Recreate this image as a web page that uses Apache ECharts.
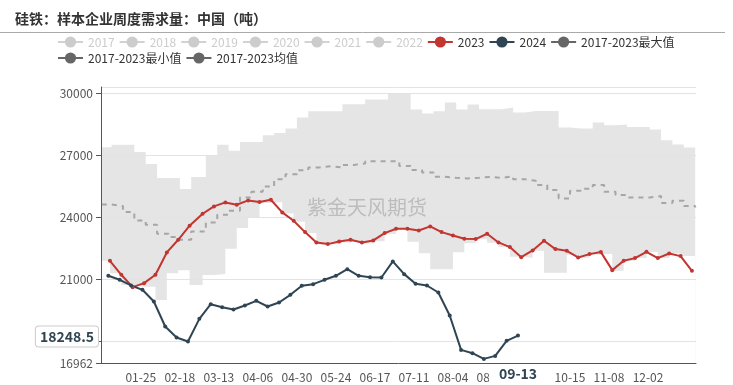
<!DOCTYPE html>
<html><head><meta charset="utf-8">
<script src="https://cdn.jsdelivr.net/npm/echarts@6/dist/echarts.min.js"></script>
<style>html,body{margin:0;padding:0;background:#fff}#c{width:733px;height:385px}</style>
</head><body><div id="c"></div>
<script>
const titleText = '硅铁：样本企业周度需求量：中国（吨）';
const watermarkText = '紫金天风期货';
const hiddenYears = ['2017', '2018', '2019', '2020', '2021', '2022'];
const name2023 = '2023', name2024 = '2024';
const nameMax = '2017-2023最大值', nameMin = '2017-2023最小值', nameAvg = '2017-2023均值';
const yMin = 16962, yMax = 30320;
const pointerDate = '09-13', pointerValue = 18248.5;

// weekly values
const values2024 = [21182, 20988, 20714, 20504, 19939, 18727, 18194, 18000, 19099, 19809, 19664, 19551, 19745,
  19971, 19696, 19890, 20262, 20698, 20778, 20988, 21182, 21505, 21182, 21117, 21101, 21877,
  21263, 20794, 20714, 20375, 19260, 17597, 17435, 17161, 17306, 18033, 18291];
const values2023 = [21909, 21231, 20633, 20827, 21231, 22313, 22926, 23605, 24186, 24541, 24735, 24622, 24832,
  24751, 24864, 24251, 23847, 23298, 22797, 22716, 22846, 22926, 22797, 22894, 23249, 23459,
  23459, 23378, 23572, 23298, 23136, 22975, 22959, 23217, 22797, 22571, 22086, 22409, 22878,
  22474, 22393, 22070, 22232, 22329, 21457, 21909, 22038, 22345, 22038, 22264, 22135, 21424];
const maxValues = [27400, 27529, 27529, 27174, 26592, 25914, 25914, 25381, 25962, 27012, 27529, 27238, 27662,
  27662, 27986, 28097, 28310, 28841, 29145, 29145, 29145, 29483, 29483, 29710, 29710, 30000, 30000,
  29227, 29034, 29145, 29565, 29227, 29469, 29242, 29242, 29324, 29082, 29160, 29160, 29160,
  28358, 28310, 28310, 28599, 28469, 28503, 28387, 28387, 28261, 27744, 27537, 27392, 27392];
const avgValues = [24638, 24557, 24267, 23863, 23653, 23217, 23055, 22926, 23330, 23766, 24138, 24331, 24977,
  25247, 25500, 25850, 26102, 26295, 26426, 26489, 26426, 26550, 26619, 26730, 26730, 26730, 26500,
  26300, 26184, 25972, 25924, 25894, 25924, 25972, 25924, 26005, 25861, 25779, 25571, 25329,
  24928, 25300, 25400, 25571, 25247, 25088, 24977, 24977, 25040, 24700, 24813, 24557, 24494];
const minValues = [21909, 21306, 20741, 20650, 20650, 20016, 21306, 21450, 20741, 21224, 21272, 22490, 23492,
  23976, 24700, 24750, 24200, 23800, 23250, 22750, 22700, 22800, 22850, 22750, 22850, 23200, 23450,
  22832, 22272, 21499, 21499, 22320, 22755, 22950, 22784, 22562, 22108, 22050, 22398, 21335, 21335,
  22190, 22050, 22200, 22250, 21425, 21909, 22038, 22340, 22038, 22264, 22135, 22135, 22135];

function mmdd(t) {
  return String(t.getUTCMonth() + 1).padStart(2, '0') + '-' + String(t.getUTCDate()).padStart(2, '0');
}
// x categories: every day of the year (MM-DD)
const days = [];
for (let t = new Date(Date.UTC(2024, 0, 1)); t.getUTCFullYear() === 2024; t.setUTCDate(t.getUTCDate() + 1)) days.push(mmdd(t));
function weekly(y, m, d, n, shiftFromMarch) {
  const out = [];
  for (let i = 0; i < n; i++) {
    const t = new Date(Date.UTC(y, m - 1, d + 7 * i));
    if (shiftFromMarch && t.getUTCMonth() >= 2) t.setUTCDate(t.getUTCDate() + shiftFromMarch);
    out.push(mmdd(t));
  }
  return out;
}
const dates2024 = weekly(2024, 1, 5, values2024.length, 0);
const dates2023 = weekly(2023, 1, 6, values2023.length, 0);
const maxDates = ['01-01'].concat(weekly(2023, 1, 7, 52, 1));
const minDates = ['01-01'].concat(dates2023, ['12-31']);
const zip = (ds, vs) => vs.map((v, i) => [ds[i], v]);

const statLegend = { itemStyle: { color: '#666' }, lineStyle: { color: '#666', width: 2, type: 'solid', opacity: 1 } };
const legendNames = hiddenYears.concat([name2023, name2024, nameMax, nameMin, nameAvg]);
const selected = {};
hiddenYears.forEach(n => selected[n] = false);

const series = hiddenYears.map(n => ({ name: n, type: 'line', data: [], symbol: 'circle' }));
series.push(
  { name: nameMax, type: 'line', step: 'end', data: zip(maxDates, maxValues), symbol: 'circle', showSymbol: false,
    itemStyle: { color: '#666' }, lineStyle: { width: 0, opacity: 0 }, areaStyle: { color: '#e5e5e5', opacity: 1 }, z: 1, silent: true },
  { name: nameMin, type: 'line', step: 'end', data: zip(minDates, minValues), symbol: 'circle', showSymbol: false,
    itemStyle: { color: '#666' }, lineStyle: { width: 0, opacity: 0 }, areaStyle: { color: '#ffffff', opacity: 1 }, z: 1, silent: true },
  { name: nameAvg, type: 'line', step: 'end', data: zip(maxDates, avgValues), symbol: 'circle', showSymbol: false,
    itemStyle: { color: '#666' }, lineStyle: { width: 2, color: '#a6a6a6', type: [5, 5] }, z: 3, silent: true },
  { name: name2023, type: 'line', data: zip(dates2023, values2023), symbol: 'circle', symbolSize: 4, showAllSymbol: true,
    itemStyle: { color: '#c23531' }, lineStyle: { width: 2 }, z: 4 },
  { name: name2024, type: 'line', data: zip(dates2024, values2024), symbol: 'circle', symbolSize: 4, showAllSymbol: true,
    itemStyle: { color: '#2f4554' }, lineStyle: { width: 2 }, z: 4 }
);

const chart = echarts.init(document.getElementById('c'));
chart.setOption({
  animation: false,
  textStyle: { fontFamily: 'Noto Sans CJK SC' },
  title: { text: titleText, left: 10, top: 7, textStyle: { fontSize: 14, fontWeight: 'bold', color: '#333', fontFamily: 'Noto Sans CJK SC' } },
  legend: {
    left: 52, top: 31, itemGap: 4, itemWidth: 25, itemHeight: 14,
    textStyle: { fontSize: 12, color: '#333' }, inactiveColor: '#ccc',
    data: legendNames.map(n => ([nameMax, nameMin, nameAvg].includes(n) ? Object.assign({ name: n }, statLegend) : { name: n })),
    selected
  },
  grid: { left: 101, right: 37, top: 87, bottom: 22 },
  xAxis: {
    type: 'category', data: days, z: 2,
    axisLine: { lineStyle: { color: '#555' } },
    axisTick: { lineStyle: { color: '#555' } },
    axisLabel: { color: '#555', fontSize: 12, interval: (i) => i > 0 && i % 24 === 0 && i < 350 },
    axisPointer: {
      show: true, type: 'none', status: 'show', value: days.indexOf(pointerDate), triggerTooltip: false,
      label: { show: true, color: '#2f4554', fontWeight: 'bold', fontSize: 14, backgroundColor: '#fff', padding: [2, 10], shadowBlur: 0, margin: 2 }
    }
  },
  yAxis: {
    type: 'value', min: yMin, max: yMax, z: 2,
    axisLine: { show: true, lineStyle: { color: '#555' } },
    axisTick: { show: true, lineStyle: { color: '#555' } },
    axisLabel: { color: '#555', fontSize: 12, formatter: v => String(v) },
    splitLine: { lineStyle: { color: '#e3e3e3' } },
    axisPointer: {
      show: true, type: 'none', status: 'show', value: pointerValue, triggerTooltip: false,
      label: { show: true, formatter: p => String(p.value), color: '#2f4554', fontWeight: 'bold', fontSize: 14,
        backgroundColor: '#fff', borderColor: '#ccc', borderWidth: 1, padding: [3, 4], shadowBlur: 0 }
    }
  },
  graphic: [
    { type: 'line', shape: { x1: 0, y1: 32.5, x2: 725, y2: 32.5 }, style: { stroke: '#aaa', lineWidth: 1 }, silent: true },
    { type: 'text', x: 367, y: 207, z: 100, silent: true,
      style: { text: watermarkText, fontSize: 20, fill: '#bdbdbd', align: 'center', verticalAlign: 'middle', fontFamily: 'Noto Sans CJK SC' } }
  ],
  series
});
</script></body></html>
